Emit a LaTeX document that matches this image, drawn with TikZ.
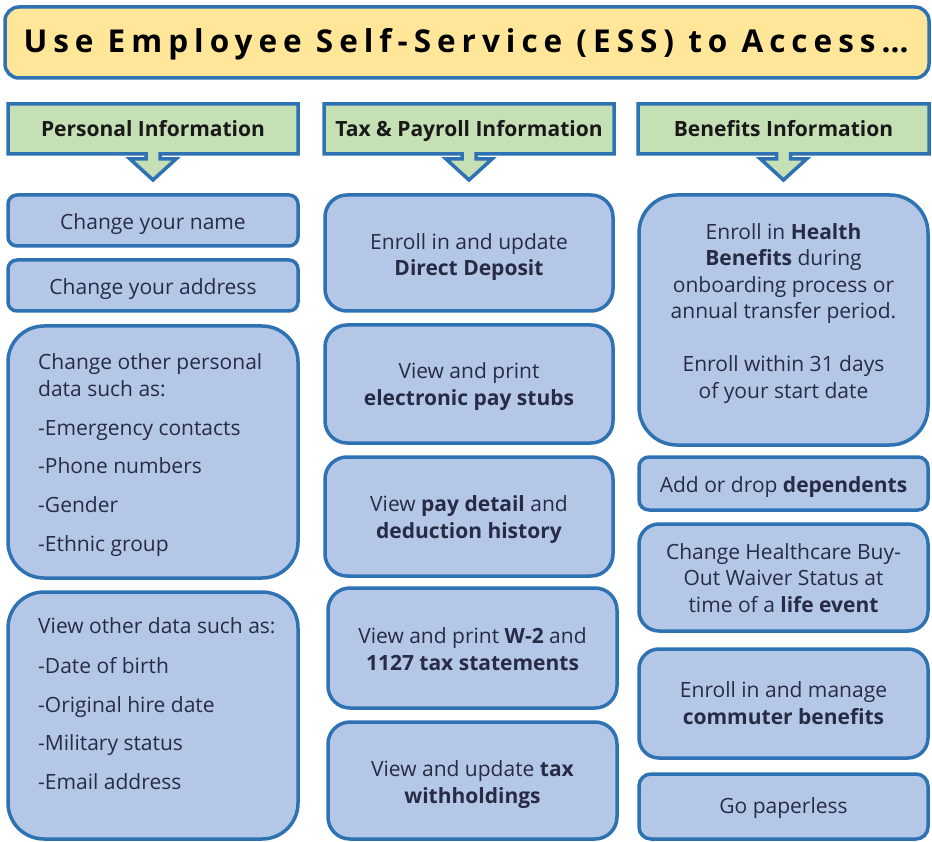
\documentclass[tikz,border=0pt]{standalone}
\usepackage{fontspec}
\setmainfont{Open Sans}
\newfontfamily\ttlfont[LetterSpace=19]{Open Sans}
\definecolor{bord}{HTML}{2E72B4}
\definecolor{boxfill}{HTML}{B4C7E7}
\definecolor{hdrfill}{HTML}{C5E0B4}
\definecolor{ttlfill}{HTML}{FFE699}
\definecolor{txt}{HTML}{272B46}
\newcommand\myBody{\fontsize{21}{26.5}\selectfont}
\begin{document}
\begin{tikzpicture}[x=1pt,y=-1pt,
  box/.style={draw=bord, fill=boxfill, line width=3.5pt, inner sep=0pt, outer sep=0pt},
  hdr/.style={draw=bord, fill=hdrfill, line width=3.5pt, line join=miter},
  ctxt/.style={text=txt, font=\myBody, align=center, inner sep=0pt, anchor=base},
  ltxt/.style={text=txt, font=\myBody, inner sep=0pt, anchor=base west},
  htxt/.style={text=black!90, font=\fontsize{21}{24}\selectfont\bfseries, inner sep=0pt, anchor=base}]
\useasboundingbox (0,0) rectangle (932,842);
\fill[white] (0,0) rectangle (932,842);
% title
\node[box, fill=ttlfill, minimum width=924pt, minimum height=71pt, rounded corners=14pt] (title) at (467,42.5) {};
\node[text=black, font=\fontsize{31.5}{36}\selectfont\ttlfont\bfseries, inner sep=0pt, anchor=base] (titletxt) at (466,53) {Use Employee Self-Service (ESS) to Access\ldots};
% headers
\foreach \xa/\xb/\cx/\nm in {8/298/153/h1, 324/614/469/h2, 638/929/783.5/h3}{
  \draw[hdr] (\xa,104) -- (\xb,104) -- (\xb,154) -- (\cx+7,154) -- (\cx+7,159) -- (\cx+23,159) -- (\cx,180) -- (\cx-23,159) -- (\cx-7,159) -- (\cx-7,154) -- (\xa,154) -- cycle;
}
\node[htxt] (h1) at (153,137) {Personal Information};
\node[htxt] (h2) at (469,137) {Tax \& Payroll Information};
\node[htxt] (h3) at (783.5,137) {Benefits Information};
% column 1
\node[box, minimum width=290pt, minimum height=51pt, rounded corners=9pt] (bname) at (153,220.5) {};
\node[ctxt] (tname) at (153,230) {Change your name};
\node[box, minimum width=290pt, minimum height=51pt, rounded corners=9pt] (baddr) at (153,285.5) {};
\node[ctxt] (taddr) at (153,295) {Change your address};
\node[box, minimum width=290pt, minimum height=252pt, rounded corners=36pt] (bother) at (153,452) {};
\foreach \yy/\tx [count=\i] in {370/Change other personal, 396/data such as:, 435/-Emergency contacts, 473/-Phone numbers, 512/-Gender, 551/-Ethnic group}
  \node[ltxt] (po\i) at (38,\yy) {\tx};
\node[box, minimum width=290pt, minimum height=247pt, rounded corners=36pt] (bview) at (153,715.5) {};
\foreach \yy/\tx [count=\i] in {633/View other data such as:, 673/-Date of birth, 712/-Original hire date, 750/-Military status, 789/-Email address}
  \node[ltxt] (pv\i) at (38,\yy) {\tx};
% column 2
\node[box, minimum width=288pt, minimum height=116pt, rounded corners=22pt] (bdd) at (469,253) {};
\node[ctxt] (tdd) at (469,276) {Enroll in and update\\\textbf{Direct Deposit}};
\node[box, minimum width=288pt, minimum height=118pt, rounded corners=22pt] (bstub) at (469,384) {};
\node[ctxt] (tstub) at (469,405) {View and print\\\textbf{electronic pay stubs}};
\node[box, minimum width=288pt, minimum height=119pt, rounded corners=22pt] (bdet) at (469,516.5) {};
\node[ctxt] (tdet) at (469,538) {View \textbf{pay detail} and\\\textbf{deduction history}};
\node[box, minimum width=289pt, minimum height=120pt, rounded corners=22pt] (bw2) at (472.5,648) {};
\node[ctxt] (tw2) at (472.5,670) {View and print \textbf{W-2} and\\\textbf{1127 tax statements}};
\node[box, minimum width=289pt, minimum height=117pt, rounded corners=22pt] (bwh) at (472.5,780.5) {};
\node[ctxt] (twh) at (472.5,803) {View and update \textbf{tax}\\\textbf{withholdings}};
% column 3
\node[box, minimum width=289pt, minimum height=250pt, rounded corners=38pt] (bhb) at (783.5,320) {};
\node[ctxt] (thb) at (783.5,398) {Enroll in \textbf{Health}\\\textbf{Benefits} during\\onboarding process or\\annual transfer period.\\[26.5pt]Enroll within 31 days\\of your start date};
\node[box, minimum width=289pt, minimum height=53pt, rounded corners=10pt] (bdep) at (783.5,483.5) {};
\node[ctxt] (tdep) at (783.5,492) {Add or drop \textbf{dependents}};
\node[box, minimum width=289pt, minimum height=107pt, rounded corners=20pt] (bhc) at (783.5,577.5) {};
\node[ctxt] (thc) at (783.5,612) {Change Healthcare Buy-\\Out Waiver Status at\\time of a \textbf{life event}};
\node[box, minimum width=289pt, minimum height=109pt, rounded corners=20pt] (bcm) at (783.5,703.5) {};
\node[ctxt] (tcm) at (783.5,724) {Enroll in and manage\\\textbf{commuter benefits}};
\node[box, minimum width=289pt, minimum height=65pt, rounded corners=12pt] (bpl) at (783.5,806.5) {};
\node[ctxt] (tpl) at (783.5,813) {Go paperless};
\end{tikzpicture}
\end{document}
